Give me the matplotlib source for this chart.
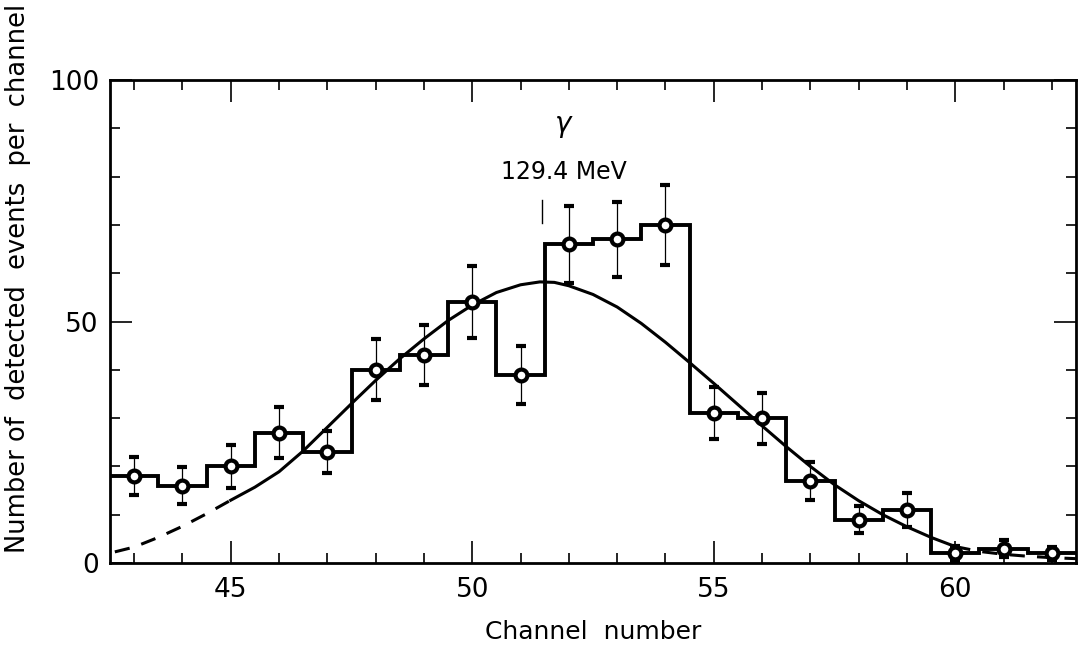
import numpy as np
import matplotlib.pyplot as plt

# measured spectrum (channel, counts, error)
channels = [43, 44, 45, 46, 47, 48, 49, 50, 51, 52,
            53, 54, 55, 56, 57, 58, 59, 60, 61, 62]
counts = [18, 16, 20, 27, 23, 40, 43, 54, 39, 66,
          67, 70, 31, 30, 17, 9, 11, 2, 3, 2]
errors = [4.0, 3.8, 4.5, 5.2, 4.4, 6.3, 6.2, 7.4, 6.0, 8.0,
          7.8, 8.2, 5.4, 5.3, 3.9, 2.7, 3.5, 1.5, 1.7, 1.4]

# fitted line shape
curve_x = [42.6, 43.0, 43.5, 44.0, 44.5, 45.0, 45.5, 46.0, 46.5, 47.0,
           47.5, 48.0, 48.5, 49.0, 49.5, 50.0, 50.5, 51.0, 51.4, 51.7,
           52.0, 52.5, 53.0, 53.5, 54.0, 54.5, 55.0, 55.5, 56.0, 56.5,
           57.0, 57.5, 58.0, 58.5, 59.0, 59.5, 60.0, 60.5, 61.0, 61.5,
           62.0, 62.5]
curve_y = [2.3, 3.3, 5.3, 7.6, 10.2, 13.0, 15.7, 18.9, 23.2, 28.1,
           33.0, 37.8, 42.3, 46.4, 50.2, 53.4, 56.0, 57.6, 58.2, 58.1,
           57.4, 55.6, 53.0, 49.6, 45.7, 41.5, 37.2, 32.8, 28.4, 24.1,
           20.0, 16.2, 12.9, 10.0, 7.5, 5.3, 3.4, 2.4, 1.8, 1.4,
           1.1, 0.9]

xlim = (42.5, 62.5)
ylim = (0, 100)
peak_channel = 51.44

cx = np.array(curve_x)
cy = np.array(curve_y)

fig = plt.figure(figsize=(10.84, 6.55), dpi=100)
ax = fig.add_axes([110/1084, 92/655, 966/1084, 483/655])

edges = np.append(np.array(channels) - 0.5, channels[-1] + 0.5)
ax.stairs(counts, edges, baseline=None, color='k', lw=2.8)

ax.errorbar(channels, counts, yerr=errors, fmt='o', ms=8.5, mfc='white',
            mec='k', mew=3.0, ecolor='k', elinewidth=0.9, capsize=3.5,
            capthick=0.9, zorder=3)

left = cx <= 45.0
mid = (cx >= 45.0) & (cx <= 60.0)
right = cx >= 60.0
ax.plot(cx[left], cy[left], color='k', lw=2.2, dashes=(5, 4))
ax.plot(cx[mid], cy[mid], color='k', lw=2.2)
ax.plot(cx[right], cy[right], color='k', lw=2.2, dashes=(5, 4))

# gamma marker
ax.plot([peak_channel, peak_channel], [70.4, 75.2], color='k', lw=1.0)
ax.text(51.9, 81, '129.4 MeV', ha='center', va='center', fontsize=17)
ax.text(51.9, 90.5, r'$\gamma$', ha='center', va='center', fontsize=20)

ax.set_xlim(*xlim)
ax.set_ylim(*ylim)

ax.set_xticks([45, 50, 55, 60])
ax.set_xticks(np.arange(43, 63), minor=True)
ax.set_yticks([0, 50, 100])
ax.set_yticks(np.arange(10, 100, 10), minor=True)
ax.tick_params(which='both', direction='in', top=True, right=True,
               width=1.2, labelsize=19)
ax.tick_params(which='major', length=16)
ax.tick_params(which='minor', length=7)
ax.tick_params(axis='x', pad=10)
ax.tick_params(axis='y', pad=8)
for s in ax.spines.values():
    s.set_linewidth(2.0)

ax.set_xlabel('Channel  number', fontsize=18, labelpad=12)
ax.set_ylabel('Number of  detected  events  per  channel', fontsize=18.5)
ax.yaxis.set_label_coords(-0.082, 0.59)

fig.savefig('out.png', dpi=100)
